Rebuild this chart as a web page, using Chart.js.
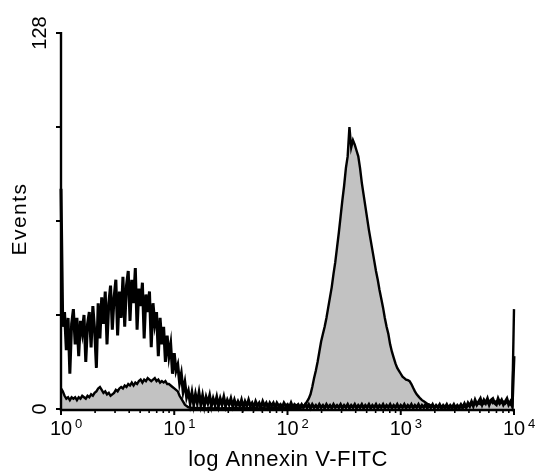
<!DOCTYPE html>
<html>
<head>
<meta charset="utf-8">
<script src="https://cdn.jsdelivr.net/npm/chart.js@4.4.1/dist/chart.umd.min.js"></script>
<style>
html,body{margin:0;padding:0;background:#fff;}
canvas{display:block;}
</style>
</head>
<body>
<canvas id="c" width="543" height="472"></canvas>
<script>
// channels: 64 per decade, 10^0 .. 10^4
const channels = [];
for (let i = 0; i <= 256; i++) channels.push(i);

const decadeChannels = [0, 64, 128, 192, 256];
const decadeExponents = ['0', '1', '2', '3', '4'];
const minorMultipliers = [2, 3, 4, 5, 6, 7, 8, 9];
const yTickValues = [0, 32, 64, 96, 128];
const yTickLabels = ['0', '', '', '', '128'];
const xTitle = 'log Annexin V-FITC';
const yTitle = 'Events';

// gray filled histogram
const annexinStained = [
  7, 6, 4.5, 3.5, 4, 3, 4, 3.5, 4, 3,
  4, 3.5, 4.5, 4, 3.5, 4.5, 4, 5, 4.5, 5.5,
  6, 7, 7.5, 6.5, 5.5, 6, 5, 5.5, 4.5, 5,
  5.5, 6.5, 6, 7, 7.5, 7, 8, 7.5, 8.5, 8,
  9, 8, 9, 8.5, 9.5, 10, 9, 10, 9.5, 10.5,
  10, 9.5, 10, 10.5, 9.5, 10, 9, 9.5, 9, 9.5,
  8.5, 8.5, 8, 7.5, 7, 6.5, 6, 4.5, 3.5, 2.5,
  1.5, 1, 0.6, 0.5, 0.4, 0.5, 0.3, 0.4, 0.3, 0.4,
  0.3, 0.4, 0.2, 0.3, 0.4, 0.3, 0.2, 0.3, 0.4, 0.3,
  0.2, 0.3, 0.3, 0.4, 0.2, 0.3, 0.3, 0.2, 0.4, 0.3,
  0.3, 0.2, 0.3, 0.4, 0.3, 0.2, 0.3, 0.3, 0.4, 0.2,
  0.3, 0.3, 0.2, 0.4, 0.3, 0.3, 0.2, 0.3, 0.4, 0.3,
  0.3, 0.2, 0.4, 0.3, 0.3, 0.2, 0.3, 0.4, 0.3, 0.3,
  0.3, 0.4, 0.3, 0.4, 0.5, 0.4,
  0.5, 1, 1.5, 2.5, 3.5, 5, 7.5, 10.5, 13, 16,
  19.5, 23, 25.5, 28, 31, 34.5, 38, 41.5, 46, 50,
  55, 60, 65.5, 71, 76, 82, 86, 96, 89, 91.5,
  90, 88, 86, 82, 77, 73, 69, 65, 61, 57.5,
  54, 50.5, 47, 44, 40.5, 37.5, 34.5, 31, 28, 25.5,
  22, 19.5, 17.5, 15.5, 14, 13, 12, 11, 10.5, 10,
  9.8, 9.5, 8.5, 7.2, 6, 5, 4.3, 3.6, 3, 2.6,
  2.2, 1.8, 1.5, 1.2, 1, 0.9, 0.8, 0.7, 0.6, 0.6,
  0.5, 0.6, 0.5, 0.4, 0.5, 0.6, 0.5, 0.4, 0.5, 0.5,
  0.6, 0.5, 0.7, 0.8, 1, 1.2, 1.5, 1.3, 1.8, 1.5,
  2, 1.6, 2.2, 1.8, 2.5, 2, 2.2, 2.8, 2, 2.4,
  2.6, 2, 2.8, 2.2, 2.5, 1.8, 2.4, 2, 1.5, 1.2,
  34
];

// black open histogram
const annexinControl = [
  75, 28, 33, 20, 31, 12, 29, 34, 22, 31,
  18, 30, 26, 32, 16, 29, 33, 21, 35, 27,
  14, 36, 24, 38, 29, 40, 22, 36, 42, 27,
  38, 44, 25, 40, 31, 45, 28, 42, 47, 30,
  44, 36, 48, 27, 41, 35, 43, 24, 39, 33,
  40, 21, 36, 29, 33, 18, 31, 22, 28, 16,
  25, 18, 22, 12, 19, 13, 15, 9, 12, 6,
  9, 4, 6, 2, 5.5, 1.5, 5, 2, 5.5, 1.5,
  4.5, 1, 4, 2, 4.5, 1, 3.5, 1.5, 4, 1,
  3.5, 1.5, 4, 1, 3, 1.5, 3.5, 1, 3, 1,
  2.5, 1, 3, 0.5, 2.5, 1, 3, 1, 2, 0.5,
  2.5, 1, 2, 0.5, 2.5, 1, 2, 0.5, 2, 1,
  2, 0.5, 2, 1, 1.5, 0.5, 2, 1, 1.5, 0.5,
  2, 0.5, 1.5, 1, 1.5, 0.5, 1.5, 0.5, 1.5, 0.5,
  1.5, 0.3, 1.5, 0.5, 1.2, 0.3, 1.5, 0.5, 1.2, 0.3,
  1.5, 0.5, 1.2, 0.3, 1.5, 0.5, 1.2, 0.5, 1.5, 0.3,
  1.2, 0.5, 1.5, 0.3, 1.2, 0.5, 1.5, 0.3, 1.2, 0.5,
  1.5, 0.3, 1.2, 0.5, 1.5, 0.3, 1.2, 0.5, 1.5, 0.3,
  1.2, 0.5, 1.5, 0.3, 1.2, 0.5, 1.5, 0.3, 1.2, 0.5,
  1.5, 0.3, 1.2, 0.5, 1.5, 0.3, 1.2, 0.5, 1.5, 0.3,
  1.2, 0.5, 1.5, 0.3, 1.2, 0.5, 1.5, 0.3, 1.2, 0.5,
  1.5, 0.3, 1.2, 0.5, 1.5, 0.3, 1.2, 0.5, 1.5, 0.3,
  1.2, 0.5, 1.5, 0.3, 1.2, 0.5, 1.5, 0.5, 1.8, 0.5,
  2, 1, 2.5, 1, 3, 1.5, 2.5, 3.5, 1.5, 3,
  2, 3.5, 1.5, 3, 3.5, 2, 1.5, 3.5, 2, 3,
  1.5, 2.5, 3.5, 1.5, 2.5, 1,
  18
];

const FONT = '"Liberation Sans", Arial, Helvetica, sans-serif';

const axesPlugin = {
  id: 'flowAxes',
  afterDatasetsDraw(chart) {
    const ctx = chart.ctx;
    const xs = chart.scales.x, ys = chart.scales.y;
    const x0 = xs.getPixelForValue(0), x1 = xs.getPixelForValue(256);
    const yb = ys.getPixelForValue(0), yt = ys.getPixelForValue(128);
    ctx.save();
    ctx.strokeStyle = '#000';
    ctx.fillStyle = '#000';
    // axis lines
    ctx.lineWidth = 2.4;
    ctx.beginPath();
    ctx.moveTo(x0, yt - 1);
    ctx.lineTo(x0, yb + 1);
    ctx.lineTo(x1 + 1, yb + 1);
    ctx.stroke();
    // y ticks
    ctx.lineWidth = 2;
    yTickValues.forEach(v => {
      const y = ys.getPixelForValue(v);
      ctx.beginPath();
      ctx.moveTo(x0 - 5, y);
      ctx.lineTo(x0, y);
      ctx.stroke();
    });
    // x ticks
    for (let d = 0; d < decadeChannels.length; d++) {
      const px = xs.getPixelForValue(decadeChannels[d]);
      ctx.lineWidth = 2;
      ctx.beginPath();
      ctx.moveTo(px, yb);
      ctx.lineTo(px, yb + 6);
      ctx.stroke();
      if (d < decadeChannels.length - 1) {
        minorMultipliers.forEach(m => {
          const mx = xs.getPixelForValue(decadeChannels[d] + 64 * Math.log10(m));
          ctx.lineWidth = 1.6;
          ctx.beginPath();
          ctx.moveTo(mx, yb);
          ctx.lineTo(mx, yb + 4);
          ctx.stroke();
        });
      }
    }
    // x tick labels
    for (let d = 0; d < decadeChannels.length; d++) {
      const px = xs.getPixelForValue(decadeChannels[d]);
      ctx.font = '20px ' + FONT;
      ctx.textAlign = 'center';
      ctx.textBaseline = 'alphabetic';
      ctx.fillText('10', px, 435);
      ctx.font = '13px ' + FONT;
      ctx.textAlign = 'left';
      ctx.fillText(decadeExponents[d], px + 14, 428);
    }
    // y tick labels (rotated)
    ctx.font = '20px ' + FONT;
    yTickValues.forEach((v, i) => {
      if (!yTickLabels[i]) return;
      const y = ys.getPixelForValue(v);
      ctx.save();
      ctx.translate(40, y);
      ctx.rotate(-Math.PI / 2);
      ctx.textAlign = 'center';
      ctx.textBaseline = 'middle';
      ctx.fillText(yTickLabels[i], 0, 0);
      ctx.restore();
    });
    // titles
    ctx.save();
    ctx.font = '21px ' + FONT;
    ctx.letterSpacing = '1.5px';
    ctx.translate(20, 219);
    ctx.rotate(-Math.PI / 2);
    ctx.textAlign = 'center';
    ctx.textBaseline = 'middle';
    ctx.fillText(yTitle, 0, 0);
    ctx.restore();
    ctx.save();
    ctx.font = '22px ' + FONT;
    ctx.letterSpacing = '0.5px';
    ctx.textAlign = 'center';
    ctx.textBaseline = 'alphabetic';
    ctx.fillText(xTitle, 288, 466);
    ctx.restore();
    ctx.restore();
  }
};

new Chart(document.getElementById('c'), {
  type: 'line',
  data: {
    labels: channels,
    datasets: [
      {
        label: 'Control',
        data: annexinControl,
        borderColor: '#000',
        borderWidth: 3,
        fill: false,
        pointRadius: 0,
        tension: 0,
        clip: false
      },
      {
        label: 'Annexin V',
        data: annexinStained,
        borderColor: '#000',
        borderWidth: 2.4,
        backgroundColor: '#c2c2c2',
        fill: 'origin',
        pointRadius: 0,
        tension: 0,
        clip: false
      }
    ]
  },
  options: {
    responsive: false,
    animation: false,
    devicePixelRatio: 1,
    layout: { padding: { left: 61, right: 29, top: 33, bottom: 63 } },
    plugins: { legend: { display: false }, tooltip: { enabled: false } },
    scales: {
      x: { type: 'linear', min: 0, max: 256, display: false },
      y: { type: 'linear', min: 0, max: 128, display: false }
    }
  },
  plugins: [axesPlugin]
});
</script>
</body>
</html>
